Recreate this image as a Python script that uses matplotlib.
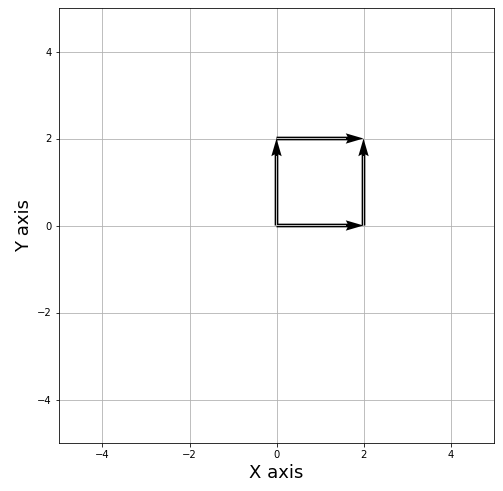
import numpy as np
import matplotlib
matplotlib.use("Agg")
import matplotlib.pyplot as plt

# arrow tails and components
x0 = [0, 0, 2, 0]
y0 = [0, 0, 0, 2]
u = [2, 0, 0, 2]
v = [0, 2, 2, 0]

fig = plt.figure(figsize=(503 / 72, 491 / 72), dpi=72)
ax = fig.add_axes([59 / 503, 1 - 443 / 491, 435 / 503, 435 / 491])

# black arrows
ax.quiver(x0, y0, u, v, angles='xy', scale_units='xy', scale=1,
          color='black', width=0.0085, headwidth=2.8, headlength=4.8,
          headaxislength=4.3, zorder=3)
# light core of the shafts
ax.quiver(x0, y0, u, v, angles='xy', scale_units='xy', scale=1.25,
          color='0.75', width=0.0025, headwidth=1, headlength=0,
          headaxislength=0, zorder=4)

ax.set_xlim(-5, 5)
ax.set_ylim(-5, 5)
ax.set_xticks([-4, -2, 0, 2, 4])
ax.set_yticks([-4, -2, 0, 2, 4])
ax.grid(True)
ax.set_xlabel('X axis', fontsize=18)
ax.set_ylabel('Y axis', fontsize=18)

fig.savefig('out.png', dpi=72)
